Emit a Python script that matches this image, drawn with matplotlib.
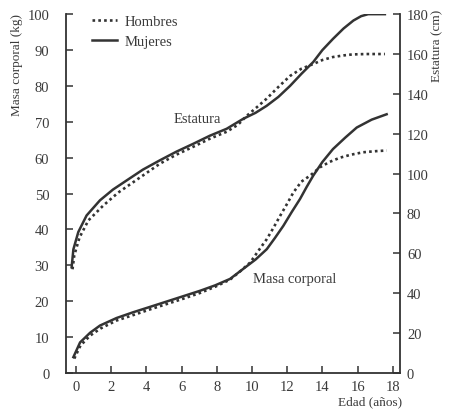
import matplotlib
matplotlib.use('Agg')
import matplotlib.pyplot as plt

# estatura (cm), eje derecho
edad_est_m = [-0.25, -0.15, 0.13, 0.6, 1.36, 2.1, 2.88, 3.8, 4.77, 5.7, 6.67, 7.6, 8.56, 9.5, 10.2, 10.83, 11.5, 12.16, 12.8, 13.48, 14.0, 14.6, 15.2, 15.76, 16.2, 16.6, 17.55]
est_m = [53, 62, 70.7, 79, 86.6, 92, 96.6, 102, 106.7, 111, 115, 119, 122.5, 127.5, 130.5, 134, 138.5, 144, 150, 156, 162, 167.6, 172.8, 176.8, 179, 180, 180]

edad_est_h = [-0.2, -0.1, 0.2, 0.7, 1.55, 2.4, 3.3, 4.77, 5.7, 6.67, 7.6, 8.56, 9.2, 9.7, 10.3, 10.83, 11.5, 12.16, 12.8, 13.48, 14.0, 14.6, 15.2, 15.7, 16.5, 17.55]
est_h = [52, 59, 68, 76.5, 84, 90.5, 96, 105, 109.5, 113.5, 117.5, 121, 124.5, 129, 133.5, 137.6, 143.5, 149, 152.6, 155, 157, 158.5, 159.3, 159.8, 160, 160]

# masa corporal (kg), eje izquierdo
edad_masa_m = [-0.15, 0.23, 0.8, 1.36, 2.3, 3.24, 4.2, 5.15, 6.1, 7.05, 7.9, 8.75, 9.5, 10.2, 10.84, 11.3, 11.78, 12.25, 12.73, 13.1, 13.48, 14.0, 14.6, 15.3, 15.95, 16.8, 17.65]
masa_m = [4.4, 8.5, 11.2, 13.2, 15.3, 16.9, 18.4, 19.9, 21.4, 22.9, 24.4, 26.2, 29, 31.6, 34.5, 37.6, 41, 44.8, 48.5, 51.8, 55, 58.8, 62.4, 65.6, 68.4, 70.6, 72.1]

edad_masa_h = [-0.1, 0.25, 0.8, 1.4, 2.3, 3.3, 4.2, 5.15, 6.1, 7.05, 7.9, 8.75, 9.3, 9.9, 10.4, 10.84, 11.2, 11.6, 12.0, 12.35, 12.8, 13.3, 13.86, 14.4, 15.0, 15.6, 16.3, 17.0, 17.65]
masa_h = [4.0, 7.6, 10.4, 12.4, 14.6, 16.2, 17.7, 19.2, 20.7, 22.3, 24.0, 26.0, 28.2, 30.8, 34.3, 37.3, 40.3, 43.8, 47.2, 50.3, 53.3, 55.0, 57.3, 58.8, 60.0, 60.8, 61.5, 61.8, 62.0]

xticks = list(range(0, 19, 2))
yticks_masa = list(range(0, 101, 10))
yticks_est = list(range(0, 181, 20))

gris = '#333333'
texto = '#3a3a3a'
plt.rcParams['font.family'] = ['Liberation Serif', 'DejaVu Serif']

fig = plt.figure(figsize=(4.52, 4.10), dpi=100)
ax = fig.add_axes([0.146, 0.088, 0.739, 0.875])
ax2 = ax.twinx()

punteado = (0, (1, 1.2))
ax.plot(edad_masa_h, masa_h, color=gris, lw=1.9, linestyle=punteado, label='Hombres')
ax.plot(edad_masa_m, masa_m, color=gris, lw=1.8, label='Mujeres')
ax2.plot(edad_est_h, est_h, color=gris, lw=1.9, linestyle=punteado)
ax2.plot(edad_est_m, est_m, color=gris, lw=1.8)

ax.set_xlim(-0.57, 18.41)
ax.set_ylim(0, 100)
ax2.set_ylim(0, 180)
ax.set_xticks(xticks)
ax.set_yticks(yticks_masa)
ax2.set_yticks(yticks_est)

for a in (ax, ax2):
    a.spines['top'].set_visible(False)
    for s in a.spines.values():
        s.set_color(gris)
        s.set_linewidth(1.3)
    a.tick_params(direction='in', length=5, width=1.1, color=gris,
                  labelsize=10.5, labelcolor=texto, pad=5)
ax.tick_params(axis='y', pad=12)
ax.spines['right'].set_visible(False)
ax2.spines['left'].set_visible(False)
ax2.spines['bottom'].set_visible(False)

ax.text(6.9, 71, 'Estatura', fontsize=10.5, color=texto, ha='center', va='center')
ax.text(12.45, 26.2, 'Masa corporal', fontsize=10.5, color=texto, ha='center', va='center')

fig.text(0.038, 0.965, 'Masa corporal (kg)', rotation=90, fontsize=9.5, color=texto,
         ha='center', va='top')
fig.text(0.967, 0.975, 'Estatura (cm)', rotation=90, fontsize=9.5, color=texto,
         ha='center', va='top')
fig.text(0.89, 0.02, 'Edad (años)', fontsize=9.5, color=texto, ha='right', va='center')

ax.legend(loc='upper left', bbox_to_anchor=(0.04, 1.035), frameon=False, fontsize=10.5,
          handlelength=1.7, handletextpad=0.5, labelspacing=0.5, labelcolor=texto)

fig.savefig('out.png', dpi=100)
